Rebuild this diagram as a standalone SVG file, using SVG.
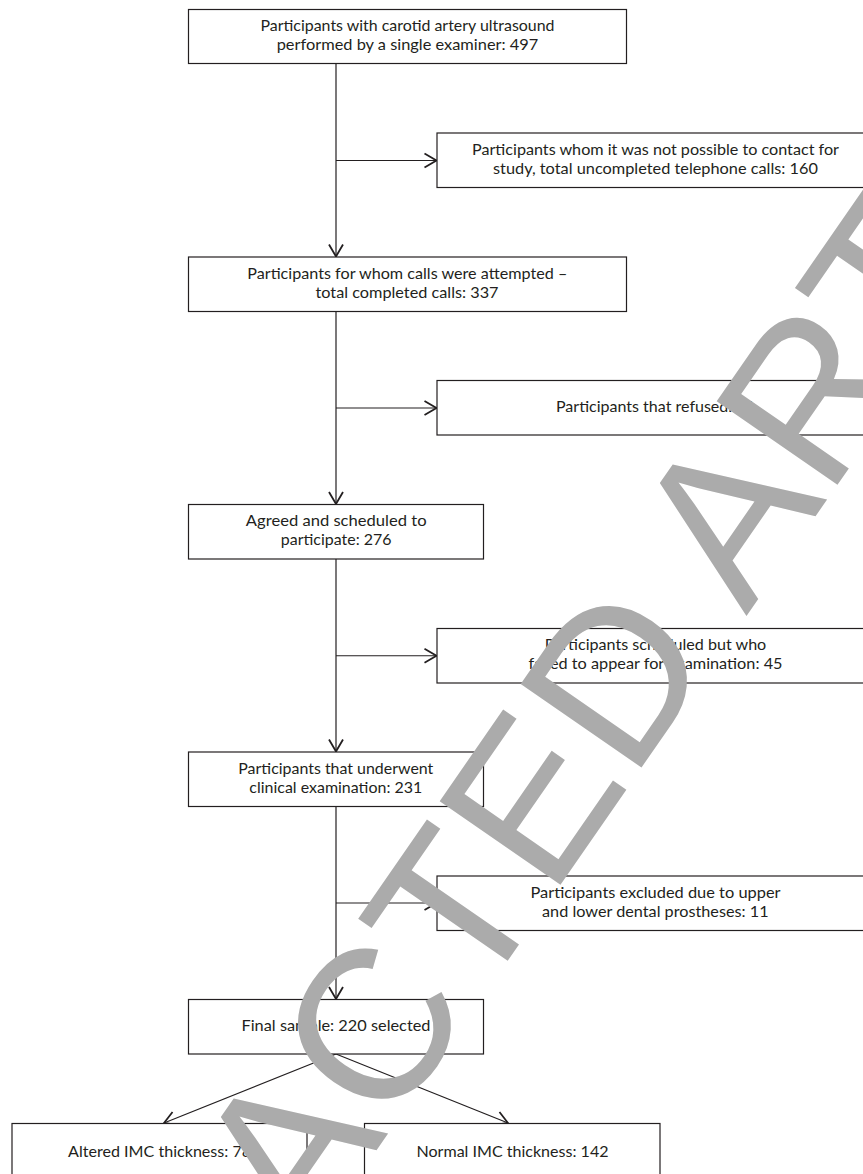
<svg xmlns="http://www.w3.org/2000/svg" width="863" height="1174" viewBox="0 0 863 1174">
<style>
.box{fill:#fff;stroke:#231f20;stroke-width:1.2}
.t{font-family:Lato,"Liberation Sans",Arial,sans-serif;font-size:16px;fill:#231f20;text-anchor:middle}
.c{fill:none;stroke:#231f20;stroke-width:1.2}
.wm{font-family:"Liberation Sans",Arial,sans-serif;font-size:213.5px;fill:#ababab}
</style>
<defs>
<marker id="arr" markerUnits="userSpaceOnUse" markerWidth="20" markerHeight="20" viewBox="-14 -10 16 20" refX="0" refY="0" orient="auto">
<path d="M-12,-7 L0,0 L-12,7" fill="none" stroke="#231f20" stroke-width="1.8"/>
</marker>
</defs>
<rect width="863" height="1174" fill="#fff"/>
<g id="connectors">
<path class="c" d="M336,63.5 V256.5" marker-end="url(#arr)"/>
<path class="c" d="M336,160.5 H436.5" marker-end="url(#arr)"/>
<path class="c" d="M336,311.5 V504" marker-end="url(#arr)"/>
<path class="c" d="M336,408 H436.5" marker-end="url(#arr)"/>
<path class="c" d="M336,559 V751.5" marker-end="url(#arr)"/>
<path class="c" d="M336,655.75 H436.5" marker-end="url(#arr)"/>
<path class="c" d="M336,806.5 V999" marker-end="url(#arr)"/>
<path class="c" d="M336,903 H436.5" marker-end="url(#arr)"/>
<path class="c" d="M336,1054 L164,1123" marker-end="url(#arr)"/>
<path class="c" d="M336,1054 L508,1123" marker-end="url(#arr)"/>
</g>
<g id="n1">
<rect class="box" x="188.5" y="9.5" width="438" height="54"/>
<text class="t" x="407.5" y="31" textLength="294" lengthAdjust="spacingAndGlyphs">Participants with carotid artery ultrasound</text>
<text class="t" x="407.5" y="50" textLength="261.6" lengthAdjust="spacingAndGlyphs">performed by a single examiner: 497</text>
</g>
<g id="r1">
<rect class="box" x="437" y="133" width="440" height="54.5"/>
<text class="t" x="655.5" y="155" textLength="367" lengthAdjust="spacingAndGlyphs">Participants whom it was not possible to contact for</text>
<text class="t" x="655.5" y="174" textLength="325" lengthAdjust="spacingAndGlyphs">study, total uncompleted telephone calls: 160</text>
</g>
<g id="n2">
<rect class="box" x="188.5" y="257" width="438" height="54.5"/>
<text class="t" x="407.3" y="278.8" textLength="320" lengthAdjust="spacingAndGlyphs">Participants for whom calls were attempted –</text>
<text class="t" x="407" y="297.8" textLength="183" lengthAdjust="spacingAndGlyphs">total completed calls: 337</text>
</g>
<g id="r2">
<rect class="box" x="437" y="380.5" width="440" height="54.5"/>
<text class="t" x="655.5" y="412" textLength="199" lengthAdjust="spacingAndGlyphs">Participants that refused: 61</text>
</g>
<g id="n3">
<rect class="box" x="188.5" y="504.5" width="295" height="54.5"/>
<text class="t" x="336.2" y="526.3" textLength="180.7" lengthAdjust="spacingAndGlyphs">Agreed and scheduled to</text>
<text class="t" x="336.2" y="545.3" textLength="110.7" lengthAdjust="spacingAndGlyphs">participate: 276</text>
</g>
<g id="r3">
<rect class="box" x="437" y="628.5" width="440" height="54.5"/>
<text class="t" x="655.5" y="650.3" textLength="221.5" lengthAdjust="spacingAndGlyphs">Participants scheduled but who</text>
<text class="t" x="655.5" y="669.3" textLength="254" lengthAdjust="spacingAndGlyphs">failed to appear for examination: 45</text>
</g>
<g id="n4">
<rect class="box" x="188.5" y="752" width="295" height="54.5"/>
<text class="t" x="335.8" y="773.8" textLength="195" lengthAdjust="spacingAndGlyphs">Participants that underwent</text>
<text class="t" x="335.8" y="792.8" textLength="173" lengthAdjust="spacingAndGlyphs">clinical examination: 231</text>
</g>
<g id="r4">
<rect class="box" x="437" y="876" width="440" height="54.5"/>
<text class="t" x="655.5" y="897.8" textLength="250" lengthAdjust="spacingAndGlyphs">Participants excluded due to upper</text>
<text class="t" x="655.3" y="916.8" textLength="226.5" lengthAdjust="spacingAndGlyphs">and lower dental prostheses: 11</text>
</g>
<g id="n5">
<rect class="box" x="188.5" y="999.5" width="295" height="54.5"/>
<text class="t" x="336" y="1031" textLength="189" lengthAdjust="spacingAndGlyphs">Final sample: 220 selected</text>
</g>
<g id="n6">
<rect class="box" x="12" y="1123.5" width="295" height="60"/>
<text class="t" x="159.6" y="1156.5" textLength="183" lengthAdjust="spacingAndGlyphs">Altered IMC thickness: 78</text>
</g>
<g id="n7">
<rect class="box" x="364.5" y="1123.5" width="295.5" height="60"/>
<text class="t" x="512.5" y="1156.5" textLength="192" lengthAdjust="spacingAndGlyphs">Normal IMC thickness: 142</text>
</g>
<g id="watermark">
<text class="wm" x="0" y="0" transform="translate(-23.5,1728) rotate(-55.3)">RETRACTED ARTICLE</text>
</g>
</svg>
